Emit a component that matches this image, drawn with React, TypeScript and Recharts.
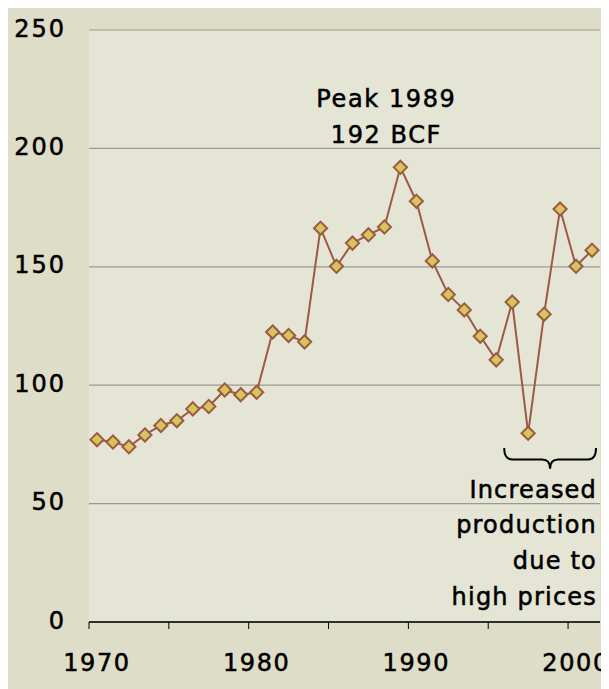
import React from "react";
import {
  LineChart,
  Line,
  XAxis,
  YAxis,
  CartesianGrid,
  ReferenceArea,
  ReferenceDot,
} from "recharts";

const years = [
  1970, 1971, 1972, 1973, 1974, 1975, 1976, 1977, 1978, 1979, 1980, 1981,
  1982, 1983, 1984, 1985, 1986, 1987, 1988, 1989, 1990, 1991, 1992, 1993,
  1994, 1995, 1996, 1997, 1998, 1999, 2000, 2001,
];
const production = [
  77, 76, 74, 79, 83, 85, 90, 91, 98, 96, 97, 122.5, 121, 118.3, 166.3, 150.2,
  160, 163.5, 166.8, 192, 177.7, 152.5, 138.3, 131.8, 120.7, 110.7, 135.1,
  79.7, 130, 174.4, 150.2, 157,
];
const yTicks = [0, 50, 100, 150, 200, 250];
const xLabelYears = [1970, 1980, 1990, 2000];
const xTickMarks = [1969.5, 1974.5, 1979.5, 1984.5, 1989.5, 1994.5, 1999.5];
const peakLines = ["Peak 1989", "192 BCF"];
const noteLines = ["Increased", "production", "due to", "high prices"];

const data = years.map((y, i) => ({ year: y, value: production[i] }));
const xTicks = [...xTickMarks, ...xLabelYears].sort((a, b) => a - b);

const FONT = "'DejaVu Sans', Verdana, sans-serif";
const LINE = "#9c5a46";
const FILL = "#d6c55a";
const TEXT_STYLE = {
  fill: "#000",
  stroke: "#000",
  strokeWidth: 0.55,
  fontSize: 24,
  fontFamily: FONT,
} as const;

const Diamond = (props: any) => {
  const { cx, cy } = props;
  if (cx == null || cy == null) return null;
  const s = 6.6;
  return (
    <path
      d={`M${cx},${cy - s}L${cx + s},${cy}L${cx},${cy + s}L${cx - s},${cy}Z`}
      fill={FILL}
      stroke={LINE}
      strokeWidth={2}
    />
  );
};

const XTick = (props: any) => {
  const { x, y, payload } = props;
  const v = payload.value;
  if (xLabelYears.includes(v)) {
    return (
      <text
        x={x}
        y={y}
        dy={49}
        textAnchor="middle"
        {...TEXT_STYLE}
        letterSpacing={1.6}
      >
        {v}
      </text>
    );
  }
  return <line x1={x} x2={x} y1={y} y2={y + 7} stroke="#000" strokeWidth={1} />;
};

const YTick = (props: any) => {
  const { x, y, payload } = props;
  return (
    <text
      x={x - 23}
      y={y}
      dy={6.5}
      textAnchor="end"
      {...TEXT_STYLE}
      letterSpacing={2}
    >
      {payload.value}
    </text>
  );
};

const PeakLabel = (props: any) => {
  const { cx, cy } = props;
  return (
    <g>
      {peakLines.map((t, i) => (
        <text
          key={t}
          x={cx - 14}
          y={cy - 60 + i * 36}
          textAnchor="middle"
          {...TEXT_STYLE}
          letterSpacing={1.6}
        >
          {t}
        </text>
      ))}
    </g>
  );
};

const Brace = (props: any) => {
  const { x, y, width, height } = props;
  const x0 = x;
  const x1 = x + width;
  const c = x + width / 2;
  const top = y;
  const bot = y + height;
  const mid = top + height * 0.55;
  const r = 8;
  const d = `M${x0},${top} Q${x0},${mid} ${x0 + r},${mid} L${c - r},${mid} Q${c},${mid} ${c},${bot} Q${c},${mid} ${c + r},${mid} L${x1 - r},${mid} Q${x1},${mid} ${x1},${top}`;
  return (
    <g>
      <path d={d} fill="none" stroke="#000" strokeWidth={2} />
      {noteLines.map((t, i) => (
        <text
          key={t}
          x={x1 + 1}
          y={bot + 29 + i * 35.7}
          textAnchor="end"
          {...TEXT_STYLE}
          letterSpacing={1.2}
        >
          {t}
        </text>
      ))}
    </g>
  );
};

export default function App() {
  return (
    <div
      style={{
        marginTop: -3,
        width: 601,
        height: 684,
        background: "#dedec8",
      }}
    >
      <LineChart
        width={601}
        height={684}
        data={data}
        margin={{ top: 25, right: 9, left: 0, bottom: 0 }}
      >
        <CartesianGrid
          horizontal={true}
          vertical={false}
          stroke="#9a9a92"
          strokeWidth={1.2}
          fill="#e5e5d5"
        />
        <XAxis
          dataKey="year"
          type="number"
          domain={[1969.5, 2001.5]}
          ticks={xTicks}
          interval={0}
          height={67}
          tickLine={false}
          tickSize={0}
          tickMargin={0}
          axisLine={{ stroke: "#000", strokeWidth: 1.5 }}
          tick={<XTick />}
          allowDecimals={true}
        />
        <YAxis
          domain={[0, 250]}
          ticks={yTicks}
          width={81}
          axisLine={false}
          tickLine={false}
          tickSize={0}
          tickMargin={0}
          tick={<YTick />}
          interval={0}
        />
        <ReferenceArea
          x1={1995.5}
          x2={2001.25}
          y1={64.7}
          y2={73.5}
          shape={Brace}
        />
        <ReferenceDot x={1989} y={192} r={0} shape={PeakLabel} />
        <Line
          type="linear"
          dataKey="value"
          stroke={LINE}
          strokeWidth={2}
          dot={<Diamond />}
          activeDot={false}
          isAnimationActive={false}
        />
      </LineChart>
    </div>
  );
}
